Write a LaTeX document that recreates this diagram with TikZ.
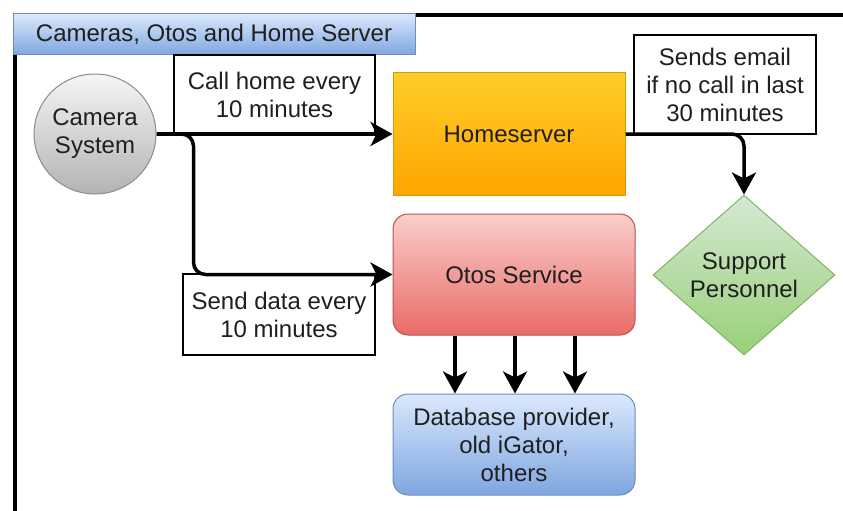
\documentclass[tikz,border=0pt]{standalone}
\usepackage{fontspec}
\setmainfont{Liberation Sans}
\usetikzlibrary{arrows.meta,shapes.geometric}

\definecolor{txt}{HTML}{1F1F1F}
\definecolor{orTop}{HTML}{FFCD28}
\definecolor{orBot}{HTML}{FFA500}
\definecolor{orLine}{HTML}{D79B00}
\definecolor{rdTop}{HTML}{F8CECC}
\definecolor{rdBot}{HTML}{EA6B66}
\definecolor{rdLine}{HTML}{B85450}
\definecolor{blTop}{HTML}{DAE8FC}
\definecolor{blBot}{HTML}{7EA6E0}
\definecolor{blLine}{HTML}{6C8EBF}
\definecolor{gnTop}{HTML}{D5E8D4}
\definecolor{gnBot}{HTML}{97D077}
\definecolor{gnLine}{HTML}{82B366}
\definecolor{gyTop}{HTML}{F5F5F5}
\definecolor{gyBot}{HTML}{B3B3B3}
\definecolor{gyLine}{HTML}{8C8C8C}

\tikzset{
  base/.style={inner sep=0pt, align=center, text=txt,
    font=\fontsize{24}{28}\selectfont},
  box/.style={base, rectangle, line width=1pt},
  label box/.style={base, rectangle, draw=black, fill=white, line width=1.3pt},
  flow/.style={line width=3.5pt, line join=round,
    -{Stealth[length=22pt,width=24pt,inset=6pt]}},
  plain/.style={line width=3.5pt, line join=round},
}

\begin{document}
\begin{tikzpicture}[x=1pt,y=-1pt]
\useasboundingbox (0,0) rectangle (843,511);

% container frame
\draw[line width=4pt] (14.5,530) -- (14.5,15.5) -- (860,15.5);

% container title bar
\node[box, draw=blLine, top color=blTop, bottom color=blBot,
      minimum width=402pt, minimum height=41pt] (title) at (214,34.5)
      {Cameras, Otos and Home Server};

% edge labels
\node[label box, minimum width=201pt, minimum height=79pt] (callLbl) at (274.5,94.5)
      {Call home every\\10 minutes};
\node[label box, minimum width=182pt, minimum height=99pt] (emailLbl) at (725,84.5)
      {Sends email\\if no call in last\\30 minutes};
\node[label box, minimum width=192pt, minimum height=81pt] (sendLbl) at (279,314.5)
      {Send data every\\10 minutes};

% main shapes
\node[base, ellipse, draw=gyLine, line width=1pt, top color=gyTop, bottom color=gyBot,
      minimum width=122pt, minimum height=120pt] (cam) at (95,134)
      {Camera\\System};
\node[box, draw=orLine, top color=orTop, bottom color=orBot,
      minimum width=232pt, minimum height=122pt] (home) at (509,134)
      {Homeserver};
\node[box, rounded corners=15pt, draw=rdLine, top color=rdTop, bottom color=rdBot,
      minimum width=242pt, minimum height=121pt] (otos) at (514,274.5)
      {Otos Service};
\node[box, rounded corners=15pt, draw=blLine, top color=blTop, bottom color=blBot,
      minimum width=242pt, minimum height=101pt] (db) at (514,444.5)
      {Database provider,\\old iGator,\\others};
\node[base, diamond, aspect=1.14, draw=gnLine, line width=1pt,
      top color=gnTop, bottom color=gnBot,
      minimum width=182pt, minimum height=160pt] (support) at (744,275)
      {Support\\Personnel};

% connectors
\draw[flow] (cam.east) -- (home.west);
\draw[flow, rounded corners=12pt] (cam.east) -- ++(37,0) |- (otos.west);
\draw[flow, rounded corners=12pt] (home.east) -| (support.north);
\draw[flow] ([xshift=-59pt]otos.south) -- ([xshift=-59pt]db.north);
\draw[flow] ([xshift=1pt]otos.south) -- ([xshift=1pt]db.north);
\draw[flow] ([xshift=61pt]otos.south) -- ([xshift=61pt]db.north);
\end{tikzpicture}
\end{document}
